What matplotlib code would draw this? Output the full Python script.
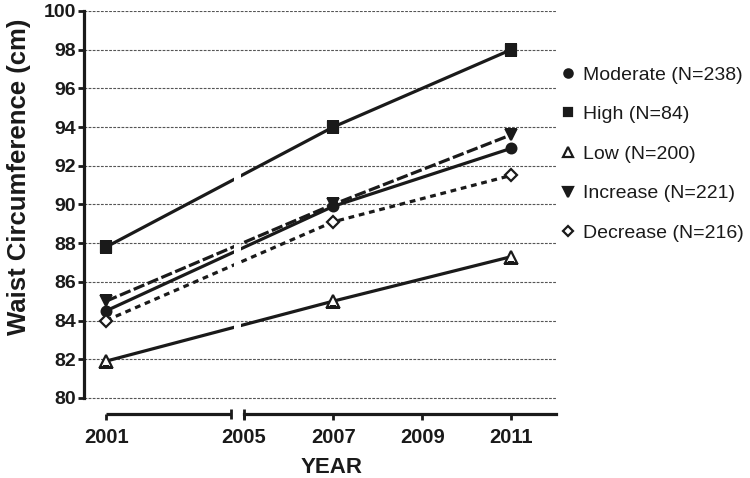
"""
Waist circumference by year for five groups, with a broken x axis
between 2001 and 2005 (drawn GraphPad-style).
"""

import numpy as np
import matplotlib.pyplot as plt
from matplotlib.lines import Line2D
from matplotlib.path import Path

plt.rcParams['font.family'] = ['Liberation Sans', 'DejaVu Sans']

years = [2001, 2007, 2011]
moderate = [84.5, 89.9, 92.9]
high = [87.8, 94.0, 98.0]
low = [81.9, 85.0, 87.3]
increase = [85.0, 90.0, 93.6]
decrease = [84.0, 89.1, 91.5]

labels = ['Moderate (N=238)', 'High (N=84)', 'Low (N=200)',
          'Increase (N=221)', 'Decrease (N=216)']
x_ticks = [2001, 2005, 2007, 2009, 2011]
y_ticks = np.arange(80, 101, 2)

# compress the span before 2005 (the broken part of the axis)
k = 138 / 178


def fwd(x):
    x = np.asarray(x, dtype=float)
    return np.where(x >= 2005, x, 2005 - (2005 - x) * k)


def inv(p):
    p = np.asarray(p, dtype=float)
    return np.where(p >= 2005, p, 2005 - (2005 - p) / k)


fig = plt.figure(figsize=(7.5, 4.78), dpi=100)
ax = fig.add_axes([0.112, 0.134, 0.6307, 0.843])
ax.set_xscale('function', functions=(fwd, inv))

x_lo, x_hi = 2000.36, 2012.03
gap_lo, gap_hi = 2004.70, 2004.92
seg1_end = 2004.62

# clip path: everything except the little gap at the break
verts = [(x_lo, -1), (gap_lo, -1), (gap_lo, 2), (x_lo, 2), (x_lo, -1),
         (gap_hi, -1), (x_hi, -1), (x_hi, 2), (gap_hi, 2), (gap_hi, -1)]
codes = [Path.MOVETO, Path.LINETO, Path.LINETO, Path.LINETO, Path.CLOSEPOLY] * 2
clip = Path(verts, codes)

ink = '#1a1a1a'
series = [
    (moderate, dict(marker='o', ls='-', mfc=ink, ms=7)),
    (high, dict(marker='s', ls='-', mfc=ink, ms=7)),
    (low, dict(marker='^', ls='-', mfc='white', ms=8)),
    (increase, dict(marker='v', ls=(0, (3.6, 1.1)), mfc=ink, ms=7.5)),
    (decrease, dict(marker='D', ls=(0, (1.8, 1.5)), mfc='white', ms=6.5)),
]
handles = []
for vals, st in series:
    ln, = ax.plot(years, vals, color=ink, lw=2.3, mec=ink, mew=1.6, **st)
    ln.set_clip_path(clip, ax.get_xaxis_transform())
    handles.append(Line2D([], [], ls='none', color=ink, marker=st['marker'],
                          mfc=st['mfc'], mec=ink, mew=1.6, ms=st['ms'] - 1))

ax.set_xlim(x_lo, x_hi)
ax.set_ylim(79.17, 100)
ax.set_yticks(y_ticks)
ax.set_xticks(x_ticks)
ax.set_xticklabels([str(t) for t in x_ticks])
ax.grid(axis='y', color='#555555', linestyle=(0, (2.5, 1.2)), linewidth=0.8)

for s in ['top', 'right']:
    ax.spines[s].set_visible(False)
ax.spines['left'].set_bounds(80, 100)
ax.spines['bottom'].set_bounds(2005, 2012)
for s in ['left', 'bottom']:
    ax.spines[s].set_linewidth(2.3)
    ax.spines[s].set_color(ink)

# first piece of the broken x axis
xt = ax.get_xaxis_transform()
ax.plot([2001, seg1_end], [0, 0], color=ink, lw=2.3, transform=xt,
        clip_on=False, solid_capstyle='butt')
ax.plot([seg1_end, 2005], [0, 0], ls='none', marker='|', ms=7, mew=2,
        color=ink, transform=xt, clip_on=False)

ax.tick_params(axis='both', direction='out', length=4, width=2, color=ink,
               labelcolor=ink)
ax.tick_params(axis='y', labelsize=14, pad=2)
ax.tick_params(axis='x', labelsize=14.5, pad=6)
for lab in ax.get_xticklabels() + ax.get_yticklabels():
    lab.set_fontweight('bold')

ax.set_xlabel('YEAR', fontsize=16, fontweight='bold', color=ink)
ax.xaxis.set_label_coords(0.524, -0.108)
fig.text(0.025, 1 - 177 / 478, 'Waist Circumference (cm)', rotation=90,
         fontsize=18.5, fontweight='bold', color=ink, ha='center', va='center')

ax.legend(handles, labels, loc='upper left', bbox_to_anchor=(0.744, 1 - 66 / 478),
          bbox_transform=fig.transFigure, frameon=False, fontsize=14,
          handlelength=1.0, handletextpad=0.3, labelspacing=1.13,
          borderpad=0, borderaxespad=0, labelcolor=ink)

fig.savefig('out.png', dpi=100)
